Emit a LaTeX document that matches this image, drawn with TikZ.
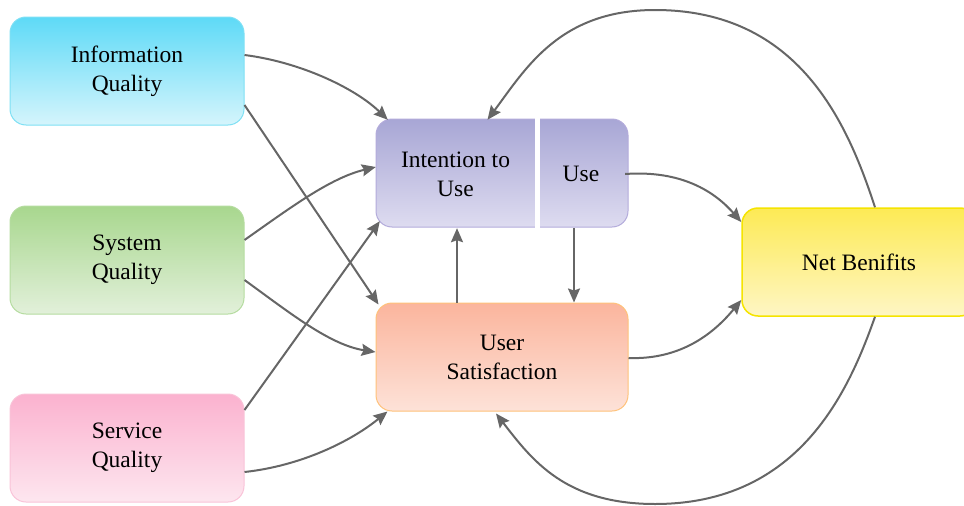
\documentclass[tikz,border=0pt]{standalone}
\usepackage{fontspec}
\setmainfont{Liberation Serif}
\usetikzlibrary{arrows.meta}
\definecolor{infotop}{HTML}{5EDAF7}
\definecolor{infobot}{HTML}{D5F5FC}
\definecolor{infobd}{HTML}{7EE0F4}
\definecolor{systop}{HTML}{A8D78E}
\definecolor{sysbot}{HTML}{E2F0DA}
\definecolor{sysbd}{HTML}{B5DCA0}
\definecolor{sertop}{HTML}{FBB2CF}
\definecolor{serbot}{HTML}{FDE6EF}
\definecolor{serbd}{HTML}{F9C3D8}
\definecolor{inttop}{HTML}{A8A6D5}
\definecolor{intbot}{HTML}{DEDCF0}
\definecolor{intbd}{HTML}{B3ABDB}
\definecolor{ustop}{HTML}{FBB59D}
\definecolor{usbot}{HTML}{FDE2D8}
\definecolor{usbd}{HTML}{FFC27A}
\definecolor{nbtop}{HTML}{FDEA55}
\definecolor{nbbot}{HTML}{FEF6C4}
\definecolor{nbbd}{HTML}{F5E400}
\definecolor{arrowgray}{HTML}{666666}
\begin{document}
\begin{tikzpicture}[x=1pt,y=-1pt,
  box/.style={rounded corners=16pt, minimum width=234pt, minimum height=108pt,
    align=center, inner sep=0pt, line width=1pt,
    font=\fontsize{23.5}{29}\selectfont},
  plain/.style={inner sep=0pt, align=center, font=\fontsize{23.5}{29}\selectfont},
  conn/.style={draw=arrowgray, line width=2pt,
    -{Stealth[length=14pt,width=12pt,inset=2pt]}}]
\useasboundingbox (0,0) rectangle (964,506);

% left boxes
\node[box, shade, top color=infotop, bottom color=infobot, draw=infobd] (iq) at (127,71) {Information\\Quality};
\node[box, shade, top color=systop, bottom color=sysbot, draw=sysbd] (sq) at (127,260) {System\\Quality};
\node[box, shade, top color=sertop, bottom color=serbot, draw=serbd] (svq) at (127,448) {Service\\Quality};

% intention / use combined box
\node[box, minimum width=252pt, shade, top color=inttop, bottom color=intbot, draw=intbd] (iubox) at (502,173) {};
\draw[white, line width=5pt] (537.5,116) -- (537.5,230);
\node[plain, minimum width=159pt, minimum height=108pt] (intent) at (455.5,174) {Intention to\\Use};
\node[plain, minimum width=88pt, minimum height=108pt] (use) at (581,174) {Use};

% user satisfaction
\node[box, minimum width=252pt, shade, top color=ustop, bottom color=usbot, draw=usbd] (us) at (502,357) {User\\Satisfaction};

% net benefits
\node[box, shade, top color=nbtop, bottom color=nbbot, draw=nbbd, line width=1.5pt] (nb) at (859,262) {Net Benifits};

% connectors from left
\draw[conn] ([yshift=16pt]iq.east) .. controls (300,62) and (355,88) .. ([xshift=12pt]intent.north west);
\draw[conn] ([yshift=-34pt]iq.east) -- ([xshift=3pt,yshift=-2pt]us.north west);
\draw[conn] ([yshift=20pt]sq.east) .. controls (290,208) and (330,178) .. ([yshift=7pt]intent.west);
\draw[conn] ([yshift=-20pt]sq.east) .. controls (290,313) and (330,345) .. ([yshift=5pt]us.west);
\draw[conn] ([yshift=38pt]svq.east) -- ([xshift=4pt,yshift=7pt]intent.south west);
\draw[conn] ([yshift=-24pt]svq.east) .. controls (300,466) and (350,442) .. ([xshift=12pt]us.south west);

% middle connectors
\draw[conn] (us.north -| 457,0) -- (intent.south -| 457,0);
\draw[conn] (use.south -| 574,0) -- (us.north -| 574,0);

% to net benefits
\draw[conn] (use.east) .. controls (682,170) and (715,192) .. ([yshift=40pt]nb.west);
\draw[conn] ([yshift=-1pt]us.east) .. controls (682,360) and (715,332) .. ([yshift=-38pt]nb.west);

% feedback arcs
\coordinate (toparc) at (655,10);
\coordinate (botarc) at (655,504);
\draw[conn] ([xshift=16pt]nb.north) .. controls (848,125) and (800,10) .. (toparc)
  .. controls (560,10) and (526,68) .. ([xshift=32pt]intent.north);
\draw[conn] ([xshift=16pt]nb.south) .. controls (849,390) and (800,504) .. (botarc)
  .. controls (565,504) and (532,460) .. ([xshift=-6pt,yshift=-2pt]us.south);
\end{tikzpicture}
\end{document}
